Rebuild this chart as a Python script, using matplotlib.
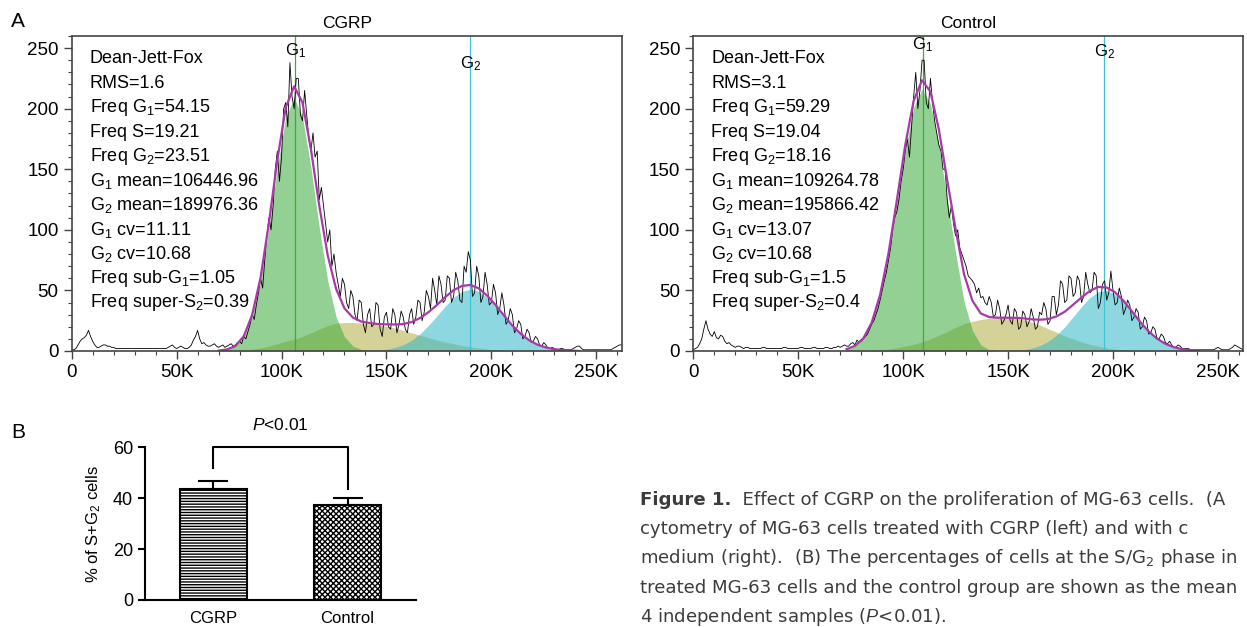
import matplotlib
matplotlib.use('Agg')
import matplotlib.pyplot as plt
import numpy as np
from matplotlib.ticker import MultipleLocator, FuncFormatter

plt.rcParams['font.family'] = ['Liberation Sans', 'DejaVu Sans']
plt.rcParams['mathtext.default'] = 'regular'
plt.rcParams['mathtext.fontset'] = 'custom'
plt.rcParams['mathtext.rm'] = 'Liberation Sans'
plt.rcParams['mathtext.it'] = 'Liberation Sans:italic'
plt.rcParams['mathtext.bf'] = 'Liberation Sans:bold'
plt.rcParams['hatch.linewidth'] = 1.0

# ---------------- data ----------------
# DNA content channel (K), one histogram value every 1K
hist_x = np.arange(0, 263, 1)

cgrp_hist = [1, 1, 2, 5, 8, 10, 11, 13, 17, 12, 8, 5, 3, 3, 4, 5, 5, 4, 4, 3,
             3, 2, 2, 2, 2, 2, 2, 2, 2, 2, 2, 2, 2, 2, 2, 2, 2, 2, 2, 2,
             2, 2, 2, 2, 2, 2, 3, 4, 5, 3, 2, 3, 4, 3, 2, 2, 3, 5, 9, 12,
             17, 10, 6, 7, 5, 4, 4, 5, 6, 4, 3, 4, 5, 3, 4, 5, 6, 4, 5, 7,
             8, 6, 12, 10, 16, 22, 30, 26, 38, 48, 60, 52, 75, 95, 110, 100, 120, 150, 165, 140,
             160, 200, 205, 185, 238, 210, 200, 225, 225, 195, 190, 215, 195, 175, 165, 180, 160, 165, 125, 135,
             120, 105, 90, 100, 70, 80, 65, 55, 45, 60, 55, 40, 35, 50, 45, 30, 25, 42, 40, 22,
             15, 30, 35, 20, 22, 40, 38, 18, 12, 28, 32, 20, 18, 35, 30, 15, 22, 33, 28, 18,
             15, 30, 35, 22, 28, 42, 40, 25, 32, 50, 45, 35, 60, 50, 38, 62, 55, 40, 42, 62,
             60, 40, 45, 65, 58, 42, 40, 70, 65, 82, 75, 45, 48, 70, 62, 40, 45, 65, 55, 38,
             40, 55, 48, 30, 35, 48, 38, 22, 25, 35, 30, 15, 18, 25, 22, 10, 12, 18, 15, 7,
             8, 12, 10, 5, 4, 7, 5, 2, 2, 3, 2, 1, 1, 2, 2, 1, 1, 1, 1, 2,
             3, 4, 4, 2, 1, 1, 1, 1, 1, 1, 1, 1, 1, 1, 1, 1, 1, 1, 2, 3,
             4, 5, 5]

ctrl_hist = [1, 2, 3, 6, 10, 18, 25, 18, 14, 12, 16, 11, 10, 13, 12, 8, 6, 7, 5, 4,
             3, 4, 4, 3, 2, 3, 3, 2, 2, 2, 2, 2, 2, 3, 3, 2, 2, 2, 2, 2,
             2, 2, 2, 3, 3, 2, 2, 2, 2, 2, 2, 3, 3, 2, 2, 2, 2, 3, 3, 2,
             2, 2, 2, 3, 3, 2, 2, 3, 3, 4, 3, 4, 5, 4, 4, 6, 7, 5, 9, 7,
             8, 10, 12, 14, 18, 22, 25, 30, 35, 42, 50, 58, 65, 75, 85, 100, 110, 115, 125, 140,
             150, 165, 175, 160, 185, 210, 230, 200, 215, 240, 240, 205, 200, 225, 205, 190, 180, 170, 165, 150,
             150, 125, 110, 120, 105, 95, 100, 85, 80, 75, 70, 62, 60, 58, 55, 48, 52, 44, 45, 40,
             38, 45, 40, 28, 30, 42, 35, 22, 25, 30, 38, 25, 22, 35, 32, 18, 20, 33, 30, 20,
             24, 35, 28, 18, 20, 32, 30, 40, 35, 22, 25, 45, 45, 30, 38, 58, 55, 40, 42, 62,
             60, 45, 48, 62, 58, 40, 45, 65, 55, 48, 50, 65, 62, 35, 40, 55, 58, 42, 48, 66,
             50, 38, 40, 52, 45, 30, 35, 42, 38, 25, 28, 35, 32, 18, 20, 28, 25, 14, 15, 20,
             18, 10, 10, 14, 12, 7, 6, 8, 5, 3, 3, 5, 4, 2, 2, 2, 2, 1, 1, 1,
             1, 1, 1, 1, 1, 1, 1, 1, 1, 2, 3, 2, 1, 1, 1, 1, 2, 3, 5, 4,
             3, 2, 1]

# Dean-Jett-Fox model components, one value every 4K
cgrp_grid = np.arange(70, 243, 4)
cgrp_g1 = [0.3, 1.3, 4.1, 11.7, 28.3, 58, 101.8, 151.7, 193, 209, 193, 151.7, 101.8, 58, 28.3,
           11.7, 4.1, 1.3, 0.3, 0, 0, 0, 0, 0, 0, 0, 0, 0, 0, 0, 0, 0, 0, 0, 0, 0, 0, 0, 0,
           0, 0, 0, 0, 0]
cgrp_s = [0, 0, 0, 0.5, 1.5, 2.5, 4, 6, 8, 9.5, 12, 15, 18, 21, 23, 23.5, 23.5, 23, 22.5, 21.5,
          20.5, 19, 17, 15, 13, 11, 9, 7.5, 6, 4.5, 3.5, 2.5, 1.5, 1, 0.5, 0, 0, 0, 0, 0,
          0, 0, 0, 0]
cgrp_g2 = [0, 0, 0, 0, 0, 0, 0, 0, 0, 0, 0, 0, 0, 0, 0, 0, 0, 0, 0.3, 0.7,
           1.5, 2.9, 5.2, 8.9, 14.2, 21, 28.9, 37, 44.2, 49.2, 51, 49.2, 44.2, 37, 28.9, 21, 14.2, 8.9, 5.2,
           2.9, 1.5, 0.7, 0.3, 0]

ctrl_grid = np.arange(73, 242, 4)
ctrl_g1 = [1.5, 4.2, 10.4, 23.2, 45.5, 79, 122, 166, 201, 216, 204, 170, 125, 81, 41, 17, 5, 1,
           0, 0, 0, 0, 0, 0, 0, 0, 0, 0, 0, 0, 0, 0, 0, 0, 0, 0, 0, 0, 0, 0, 0, 0, 0]
ctrl_s = [0, 0, 0, 0.3, 0.8, 1.5, 2.5, 4, 5.5, 7.5, 10, 13, 16, 19.5, 22.5, 24.5, 26, 27, 27.5, 27.5,
          27, 26, 24, 21.5, 18.5, 15.5, 12.5, 10, 7.5, 5.5, 4, 2.5, 1.5, 0.8, 0.3, 0, 0, 0, 0, 0,
          0, 0, 0]
ctrl_g2 = [0, 0, 0, 0, 0, 0, 0, 0, 0, 0, 0, 0, 0, 0, 0, 0, 0, 0, 0, 0,
           0.4, 1.0, 2.2, 4.3, 7.8, 13, 19.9, 28.2, 36.7, 44.1, 48.9, 49.9, 46.9, 40.7, 32.5, 23.9, 16.2,
           10.2, 5.9, 3.1, 1.5, 0.7, 0.3]

cgrp_stats = {'rms': 1.6, 'f_g1': 54.15, 'f_s': 19.21, 'f_g2': 23.51, 'g1_mean': 106446.96,
              'g2_mean': 189976.36, 'g1_cv': 11.11, 'g2_cv': 10.68, 'sub': '1.05', 'sup': '0.39'}
ctrl_stats = {'rms': 3.1, 'f_g1': 59.29, 'f_s': 19.04, 'f_g2': 18.16, 'g1_mean': 109264.78,
              'g2_mean': 195866.42, 'g1_cv': 13.07, 'g2_cv': 10.68, 'sub': '1.5', 'sup': '0.4'}

# panel B
groups = ['CGRP', 'Control']
pct_sg2 = [43.6, 37.3]
pct_err = [3.3, 2.9]

# ---------------- figure ----------------
fig = plt.figure(figsize=(12.47, 6.27), dpi=100)

S_COL, G1_COL, G2_COL = '#b8b450', '#3aaa3a', '#30b8c8'


def flow_panel(rect, title, hist, grid, g1, s, g2, st, lab_y):
    ax = fig.add_axes(rect)
    ax.fill_between(grid, s, color=S_COL, alpha=0.6, lw=0)
    ax.fill_between(grid, g1, color=G1_COL, alpha=0.55, lw=0)
    ax.fill_between(grid, g2, color=G2_COL, alpha=0.55, lw=0)
    g1_k = st['g1_mean'] / 1000
    g2_k = st['g2_mean'] / 1000
    ax.axvline(g1_k, color='#33b033', lw=0.9)
    ax.axvline(g2_k, color='#3fc3d3', lw=0.9)
    ax.plot(hist_x, hist, color='black', lw=0.6)
    fit = np.array(g1) + np.array(s) + np.array(g2)
    ax.plot(grid, fit, color='#a83aa8', lw=1.6)
    ax.text(g1_k, lab_y[0], 'G$_1$', ha='center', va='center', fontsize=12)
    ax.text(g2_k, lab_y[1], 'G$_2$', ha='center', va='center', fontsize=12)

    lines = ['Dean-Jett-Fox',
             'RMS=%s' % st['rms'],
             'Freq G$_1$=%.2f' % st['f_g1'],
             'Freq S=%.2f' % st['f_s'],
             'Freq G$_2$=%.2f' % st['f_g2'],
             'G$_1$ mean=%.2f' % st['g1_mean'],
             'G$_2$ mean=%.2f' % st['g2_mean'],
             'G$_1$ cv=%.2f' % st['g1_cv'],
             'G$_2$ cv=%.2f' % st['g2_cv'],
             'Freq sub-G$_1$=%s' % st['sub'],
             'Freq super-S$_2$=%s' % st['sup']]
    for i, t in enumerate(lines):
        ax.text(0.033, 1 - (23 + 24.4 * i) / 315, t, transform=ax.transAxes,
                ha='left', va='center', fontsize=13)

    ax.set_xlim(0, 262.144)
    ax.set_ylim(0, 260)
    ax.xaxis.set_major_locator(MultipleLocator(50))
    ax.xaxis.set_minor_locator(MultipleLocator(10))
    ax.yaxis.set_major_locator(MultipleLocator(50))
    ax.yaxis.set_minor_locator(MultipleLocator(10))
    ax.xaxis.set_major_formatter(FuncFormatter(lambda v, p: '0' if v == 0 else '%dK' % v))
    ax.tick_params(which='major', length=6, width=1, labelsize=13.5, color='#444')
    ax.tick_params(which='minor', length=3, width=0.8, color='#444')
    for sp in ax.spines.values():
        sp.set_color('#444')
        sp.set_linewidth(1.2)
    ax.set_title(title, fontsize=12.5, pad=6)
    return ax


flow_panel([0.0575, 0.4402, 0.4411, 0.5024], 'CGRP', cgrp_hist, cgrp_grid,
           cgrp_g1, cgrp_s, cgrp_g2, cgrp_stats, (248, 237))
flow_panel([0.556, 0.4402, 0.4411, 0.5024], 'Control', ctrl_hist, ctrl_grid,
           ctrl_g1, ctrl_s, ctrl_g2, ctrl_stats, (253, 247))

fig.text(0.0144, 0.965, 'A', fontsize=15, ha='center', va='center')
fig.text(0.0144, 0.311, 'B', fontsize=15, ha='center', va='center')

# ---- panel B ----
axb = fig.add_axes([0.1163, 0.0431, 0.2173, 0.2435])
xpos = np.arange(len(groups))
bars = axb.bar(xpos, pct_sg2, width=0.5, color='white', edgecolor='black', lw=1.5)
bars[0].set_hatch('------')
bars[1].set_hatch('xxxxxx')
axb.errorbar(xpos, pct_sg2, yerr=[[0, 0], pct_err], fmt='none', ecolor='black',
             elinewidth=1.5, capsize=11, capthick=1.5)
axb.plot([0, 0, 1, 1], [52, 60, 60, 43.6], color='black', lw=1.5, clip_on=False)
axb.text(0.5, 68.8, '$\\mathit{P}$<0.01', ha='center', va='center', fontsize=12.5)
axb.set_xlim(-0.51, 1.51)
axb.set_ylim(0, 60)
axb.set_yticks([0, 20, 40, 60])
axb.set_xticks(xpos)
axb.set_xticklabels(groups, fontsize=12)
axb.tick_params(axis='y', length=5, width=1.5, labelsize=13)
axb.tick_params(axis='x', length=0, pad=8)
axb.spines['top'].set_visible(False)
axb.spines['right'].set_visible(False)
axb.spines['left'].set_linewidth(1.5)
axb.spines['bottom'].set_linewidth(1.5)
axb.set_ylabel('% of S+G$_2$ cells', fontsize=12, labelpad=7)

# ---- caption ----
cap_kw = dict(fontsize=13.1, color='#3c3c3c', va='center', ha='left',
              family=['DejaVu Sans'])
cx = 640 / 1247
t0 = fig.text(cx, 1 - 500 / 627, 'Figure 1.', fontweight='bold', **cap_kw)
axb.annotate('  Effect of CGRP on the proliferation of MG-63 cells.  (A', xy=(1, 0.5),
             xycoords=t0, annotation_clip=False, **cap_kw)
cap_lines = ['cytometry of MG-63 cells treated with CGRP (left) and with c',
             'medium (right).  (B) The percentages of cells at the S/G$_2$ phase in',
             'treated MG-63 cells and the control group are shown as the mean',
             '4 independent samples ($\\mathit{P}$<0.01).']
for i, t in enumerate(cap_lines):
    fig.text(cx, 1 - (528.5 + 29.6 * i) / 627, t, **cap_kw)

fig.savefig('out.png', dpi=100)
